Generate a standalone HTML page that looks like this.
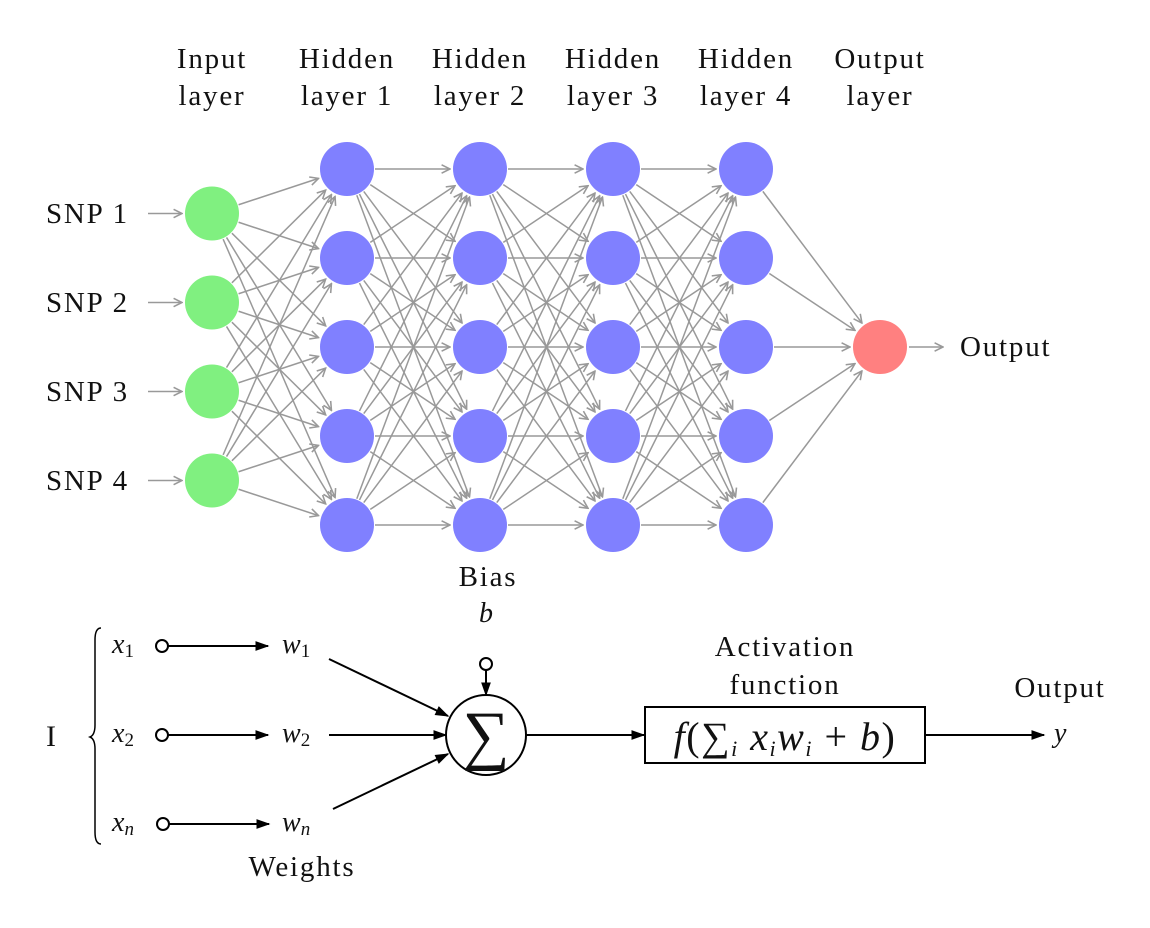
<!DOCTYPE html>
<html><head><meta charset="utf-8"><style>
body{margin:0;background:#fff;}
svg{display:block;}
text{font-family:"Liberation Serif",serif;fill:#111;}
.lbl{font-size:29px;letter-spacing:1.8px;}
</style></head><body>
<svg id="s" width="1150" height="928" viewBox="0 0 1150 928">
<defs>
<marker id="ga" viewBox="0 0 10 10" refX="9" refY="5" markerWidth="7" markerHeight="7" orient="auto"><path d="M1,1 L9,5 L1,9" fill="none" stroke="#999" stroke-width="1.5"/></marker>
<marker id="ba" viewBox="0 0 10 10" refX="9" refY="5" markerWidth="7" markerHeight="7" orient="auto"><path d="M0,1.5 L10,5 L0,8.5 z" fill="#000"/></marker>
</defs>
<g id="edges"></g>
<g id="nodes"></g>
<g class="lbl" text-anchor="middle">
<text x="212" y="68">Input</text><text x="212" y="105">layer</text>
<text x="347" y="68">Hidden</text><text x="347" y="105">layer 1</text>
<text x="480" y="68">Hidden</text><text x="480" y="105">layer 2</text>
<text x="613" y="68">Hidden</text><text x="613" y="105">layer 3</text>
<text x="746" y="68">Hidden</text><text x="746" y="105">layer 4</text>
<text x="880" y="68">Output</text><text x="880" y="105">layer</text>
</g>
<g class="lbl">
<text x="46" y="223">SNP 1</text>
<text x="46" y="312">SNP 2</text>
<text x="46" y="401">SNP 3</text>
<text x="46" y="490">SNP 4</text>
</g>
<text x="960" y="356" class="lbl">Output</text>
<text x="488" y="586" class="lbl" text-anchor="middle">Bias</text>
<text x="486" y="622" font-size="28" font-style="italic" text-anchor="middle">b</text>

<g stroke="#000" stroke-width="2">
<path d="M101,628 Q95,628 95,640 L95,725 Q95,735 90,737 Q95,739 95,749 L95,832 Q95,844 101,844" fill="none" stroke-width="1.5"/>
<circle cx="162" cy="646" r="6" fill="#fff"/>
<circle cx="162" cy="735" r="6" fill="#fff"/>
<circle cx="163" cy="824" r="6" fill="#fff"/>
<line x1="168" y1="646" x2="268" y2="646" marker-end="url(#ba)"/>
<line x1="168" y1="735" x2="268" y2="735" marker-end="url(#ba)"/>
<line x1="169" y1="824" x2="269" y2="824" marker-end="url(#ba)"/>
<line x1="329" y1="659" x2="448" y2="716" marker-end="url(#ba)"/>
<line x1="329" y1="735" x2="446" y2="735" marker-end="url(#ba)"/>
<line x1="333" y1="809" x2="448" y2="754" marker-end="url(#ba)"/>
<circle cx="486" cy="735" r="40" fill="#fff"/>
<circle cx="486" cy="664" r="6" fill="#fff"/>
<line x1="486" y1="670" x2="486" y2="695" marker-end="url(#ba)"/>
<line x1="526" y1="735" x2="644" y2="735" marker-end="url(#ba)"/>
<rect x="645" y="707" width="280" height="56" fill="#fff"/>
<line x1="925" y1="735" x2="1044" y2="735" marker-end="url(#ba)"/>
</g>
<text x="486" y="757" font-size="66" text-anchor="middle">∑</text>
<text x="46" y="746" font-size="30">I</text>
<g font-size="28" font-style="italic">
<text x="112" y="653">x<tspan font-size="19" dy="4" font-style="normal">1</tspan></text>
<text x="112" y="742">x<tspan font-size="19" dy="4" font-style="normal">2</tspan></text>
<text x="112" y="831">x<tspan font-size="19" dy="4">n</tspan></text>
<text x="282" y="653">w<tspan font-size="19" dy="4" font-style="normal">1</tspan></text>
<text x="282" y="742">w<tspan font-size="19" dy="4" font-style="normal">2</tspan></text>
<text x="282" y="831">w<tspan font-size="19" dy="4">n</tspan></text>
<text x="1054" y="742">y</text>
</g>
<text x="302" y="876" class="lbl" text-anchor="middle">Weights</text>
<text x="785" y="656" class="lbl" text-anchor="middle">Activation</text>
<text x="785" y="694" class="lbl" text-anchor="middle">function</text>
<text x="1060" y="697" class="lbl" text-anchor="middle">Output</text>
<text x="785" y="750" font-size="40" letter-spacing="1.5" text-anchor="middle"><tspan font-style="italic">f</tspan>(∑<tspan font-size="22" font-style="italic" dy="6">i</tspan><tspan dy="-6" font-style="italic"> x</tspan><tspan font-size="22" font-style="italic" dy="6">i</tspan><tspan dy="-6" font-style="italic">w</tspan><tspan font-size="22" font-style="italic" dy="6">i</tspan><tspan dy="-6"> + </tspan><tspan font-style="italic">b</tspan>)</text>
</svg>
<script>
const layerX=[212,347,480,613,746,880];
const layerCounts=[4,5,5,5,5,1];
const layerColors=["#80f080","#8080ff","#8080ff","#8080ff","#8080ff","#ff8080"];
const R=27, NS="http://www.w3.org/2000/svg";
function ys(n){const c=347,g=89;const a=[];for(let i=0;i<n;i++)a.push(c+(i-(n-1)/2)*g);return a;}
const E=document.getElementById('edges'),N=document.getElementById('nodes');
function line(x1,y1,x2,y2,name){const l=document.createElementNS(NS,'line');
l.setAttribute('x1',x1);l.setAttribute('y1',y1);l.setAttribute('x2',x2);l.setAttribute('y2',y2);
l.setAttribute('stroke','#999');l.setAttribute('stroke-width','1.5');l.setAttribute('marker-end','url(#ga)');


E.appendChild(l);}
for(let L=0;L<layerX.length-1;L++){const a=ys(layerCounts[L]),b=ys(layerCounts[L+1]);
for(const y1 of a)for(const y2 of b){const dx=layerX[L+1]-layerX[L],dy=y2-y1,d=Math.hypot(dx,dy);
const ux=dx/d,uy=dy/d;line(layerX[L]+ux*(R+1),y1+uy*(R+1),layerX[L+1]-ux*(R+3),y2-uy*(R+3),'connection');}}
ys(4).forEach(y=>line(148,y,182,y,'input-arrow'));
line(909,347,943,347,'output-arrow');
layerX.forEach((x,L)=>ys(layerCounts[L]).forEach(y=>{const c=document.createElementNS(NS,'circle');
c.setAttribute('cx',x);c.setAttribute('cy',y);c.setAttribute('r',R);c.setAttribute('fill',layerColors[L]);


N.appendChild(c);}));
</script>
</body></html>
